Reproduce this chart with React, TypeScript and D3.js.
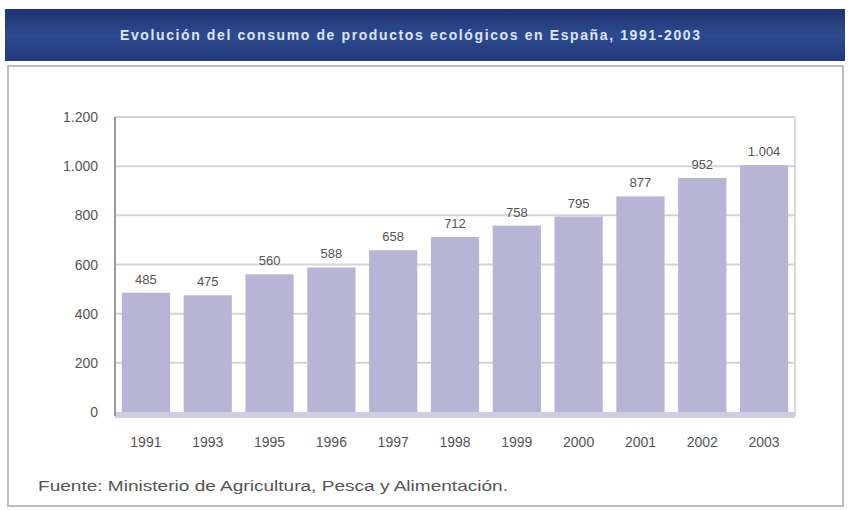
import React from "react";
import * as d3 from "d3";

const years = ["1991", "1993", "1995", "1996", "1997", "1998", "1999", "2000", "2001", "2002", "2003"];
const values = [485, 475, 560, 588, 658, 712, 758, 795, 877, 952, 1004];
const yTicks = [0, 200, 400, 600, 800, 1000, 1200];
const title = "Evolución del consumo de productos ecológicos en España, 1991-2003";
const source = "Fuente: Ministerio de Agricultura, Pesca y Alimentación.";

const W = 851;
const H = 510;
const plot = { left: 115, right: 795, top: 117, bottom: 412 };

const fmt = (v: number) => d3.format(",")(v).replace(/,/g, ".");

export default function App() {
  const x = d3.scaleBand<string>().domain(years).range([plot.left, plot.right]).paddingInner(0.22).paddingOuter(0.11);
  const y = d3.scaleLinear().domain([0, 1200]).range([plot.bottom, plot.top]);
  const font = "'Liberation Sans', Arial, sans-serif";
  return (
    <svg width={W} height={H} style={{ position: "absolute", left: 0, top: 0, background: "#fff" }} fontFamily={font}>
      <defs>
        <linearGradient id="tb" x1="0" x2="0" y1="0" y2="1">
          <stop offset="0" stopColor="#1f3370" />
          <stop offset="0.5" stopColor="#2d4a8e" />
          <stop offset="1" stopColor="#22397a" />
        </linearGradient>
      </defs>
      <rect x={5} y={9} width={840} height={52} fill="url(#tb)" />
      <text x={410} y={40} textAnchor="middle" fill="#dfe4ff" fontSize={14} fontWeight="bold" textLength={580} lengthAdjust="spacing">{title}</text>
      <rect x={8} y={66} width={835} height={440} fill="#fff" stroke="#bdbdbd" strokeWidth={2} />
      {yTicks.filter(t => t > 0).map(t => (
        <line key={t} x1={plot.left} x2={plot.right} y1={y(t)} y2={y(t)} stroke="#d4d4d4" strokeWidth={2} />
      ))}
      <rect x={plot.left} y={plot.bottom} width={plot.right - plot.left} height={6} fill="#cfcde2" />
      {values.map((v, i) => (
        <rect key={years[i]} x={x(years[i])} y={y(v)} width={x.bandwidth()} height={plot.bottom - y(v)} fill="#b8b4d6" />
      ))}
      {values.map((v, i) => (
        <text key={"l" + i} x={(x(years[i]) as number) + x.bandwidth() / 2} y={y(v) - 9} textAnchor="middle" fontSize={13} fill="#555">{fmt(v)}</text>
      ))}
      <line x1={plot.left} x2={plot.left} y1={plot.top} y2={plot.bottom + 4} stroke="#9a9a9a" strokeWidth={2} />
      <line x1={plot.right} x2={plot.right} y1={plot.top} y2={plot.bottom + 4} stroke="#cccccc" strokeWidth={1.5} />
      {yTicks.map(t => (
        <text key={"y" + t} x={98} y={y(t) + 5} textAnchor="end" fontSize={14} fill="#555">{fmt(t)}</text>
      ))}
      {years.map(yr => (
        <text key={"x" + yr} x={(x(yr) as number) + x.bandwidth() / 2} y={447} textAnchor="middle" fontSize={14} fill="#555">{yr}</text>
      ))}
      <text x={38} y={491} fontSize={14} fill="#555" textLength={470} lengthAdjust="spacingAndGlyphs">{source}</text>
    </svg>
  );
}
